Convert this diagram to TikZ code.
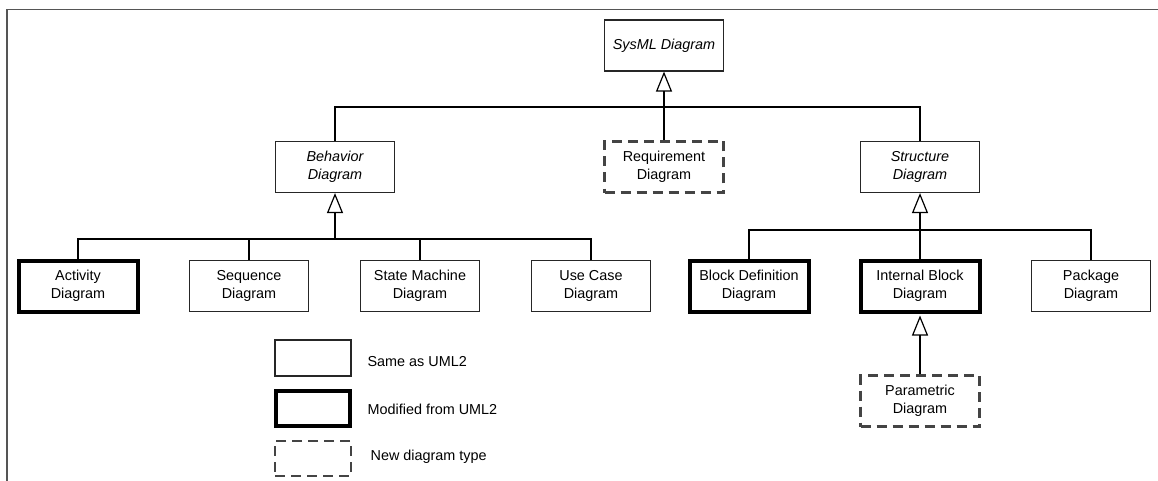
\documentclass[tikz,border=0pt]{standalone}
\usepackage{fontspec}
\setmainfont{Liberation Sans}
\usepackage{xcolor}
\usepackage{tikz}
\usetikzlibrary{positioning,arrows.meta}

\definecolor{framegray}{HTML}{555555}
\definecolor{dashgray}{HTML}{444444}
\newcommand{\boxfont}{\fontsize{14.4}{17.7}\selectfont}

\tikzset{
  diagram/.style={draw=black!85, line width=1.2pt, minimum width=119pt, minimum height=51pt,
    align=center, inner sep=2pt, font=\boxfont},
  abstract/.style={diagram, font=\boxfont\itshape},
  modified/.style={diagram, draw=black, line width=4pt},
  newtype/.style={diagram, draw=dashgray, line width=2.5pt, dash pattern=on 10pt off 6pt},
  inherit/.style={-{Triangle[open, length=20pt, width=16pt, line width=1.2pt]}},
  legtext/.style={anchor=west, inner sep=0pt, font=\boxfont}
}

\begin{document}
\begin{tikzpicture}[x=1pt, y=-1pt, line width=1.2pt, node distance=171pt, on grid]
    \useasboundingbox (0,0) rectangle (1158,481);
    \draw[framegray, line width=1.5pt] (1158,9.5) -- (7,9.5) -- (7,481);

    \node[abstract] (sysml) at (664,45.5) {SysML Diagram};
    \node[newtype] (requirement) [below=121.5pt of sysml] {Requirement\\Diagram};
    \node[abstract] (behavior) [left=329pt of requirement] {Behavior\\Diagram};
    \node[abstract] (structure) [right=256pt of requirement] {Structure\\Diagram};

    \node[modified] (activity) [below left=119pt and 257pt of behavior] {Activity\\Diagram};
    \node[diagram] (sequence) [right=of activity] {Sequence\\Diagram};
    \node[diagram] (statemachine) [right=of sequence] {State Machine\\Diagram};
    \node[diagram] (usecase) [right=of statemachine] {Use Case\\Diagram};

    \node[modified] (ibd) [below=119pt of structure] {Internal Block\\Diagram};
    \node[modified] (blockdef) [left=of ibd] {Block Definition\\Diagram};
    \node[diagram] (package) [right=of ibd] {Package\\Diagram};
    \node[newtype] (parametric) [below=115pt of ibd] {Parametric\\Diagram};

    \node[coordinate] (topjoin) [below=61.5pt of sysml] {};
    \node[coordinate] (behjoin) [below=72pt of behavior] {};
    \node[coordinate] (strjoin) [below=63pt of structure] {};

    \draw (behavior) |- (topjoin) -| (structure);
    \draw[inherit] (requirement) -- (sysml);

    \draw (activity) |- (behjoin) -| (usecase);
    \draw (sequence) -- (sequence |- behjoin);
    \draw (statemachine) -- (statemachine |- behjoin);
    \draw[inherit] (behjoin) -- (behavior);

    \draw (blockdef) |- (strjoin) -| (package);
    \draw[inherit] (ibd) -- (structure);
    \draw[inherit, shorten >=2pt] (parametric) -- (ibd);

    % legend
    \node[diagram, minimum width=76pt, minimum height=36pt] (legsame) at (313,358) {};
    \node[modified, minimum width=74pt, minimum height=35pt] (legmod) [below=50.5pt of legsame] {};
    \node[newtype, minimum width=76pt, minimum height=35pt] (legnew) [below=50pt of legmod] {};
    \node[legtext] (sametext) at (367,362) {Same as UML2};
    \node[legtext] (modtext) at (367,409) {Modified from UML2};
    \node[legtext] (newtext) at (370,457) {New diagram type};
\end{tikzpicture}
\end{document}
